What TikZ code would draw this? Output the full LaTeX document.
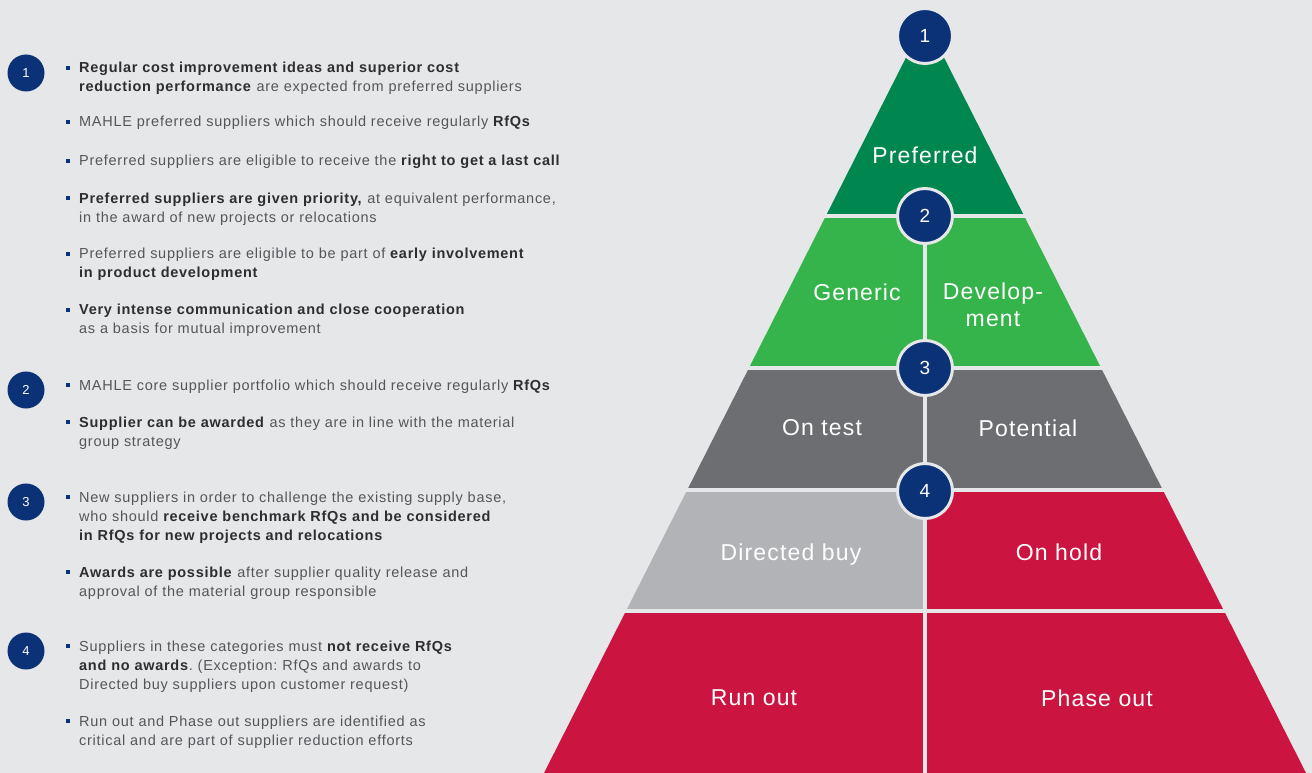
\documentclass[tikz,border=0pt]{standalone}
\usepackage{fontspec}
\setmainfont{Liberation Sans}[LetterSpace=5]
\frenchspacing

\definecolor{bgc}{HTML}{E6E7E9}
\definecolor{stepblue}{HTML}{0B3277}
\definecolor{prefgreen}{HTML}{00874F}
\definecolor{gengreen}{HTML}{34B44A}
\definecolor{testgray}{HTML}{6D6E71}
\definecolor{buygray}{HTML}{B1B3B6}
\definecolor{holdred}{HTML}{CC1440}
\definecolor{txtgray}{HTML}{55565A}
\definecolor{txtdark}{HTML}{2E2E30}

\newcommand{\keyw}[1]{\textcolor{txtdark}{\textbf{#1}}}
\newcommand{\sqbul}{\llap{\textcolor{stepblue}{\rule[2.8pt]{4pt}{4pt}}\hspace{9.5pt}}}

\begin{document}
\begin{tikzpicture}[x = 1pt, y = -1pt,
    layertext/.style = {text = white, font = \fontsize{23}{27}\selectfont, align = center},
    stepdot/.style = {circle, fill = stepblue, draw = bgc, line width = 3pt, minimum size = 55pt, inner sep = 0pt, text = white, font = \fontsize{19}{19}\selectfont},
    sidedot/.style = {circle, fill = stepblue, minimum size = 37pt, inner sep = 0pt, text = white, font = \fontsize{13}{13}\selectfont},
    itemtext/.style = {anchor = base west, text width = 520pt, align = left, inner sep = 0pt, text = txtgray, font = \fontsize{14.5}{19}\selectfont\frenchspacing}]

    \fill[bgc] (0,0) rectangle (1312,773);
    \useasboundingbox (0,0) rectangle (1312,773);

    % pyramid
    \begin{scope}
        \clip (925,20) -- (1306,773) -- (544,773) -- cycle;
        \fill[prefgreen] (540,58) rectangle (1312,214);
        \fill[gengreen] (540,218) rectangle (1312,366);
        \fill[testgray] (540,370) rectangle (1312,488);
        \fill[buygray] (540,492) rectangle (925,609);
        \fill[holdred] (925,492) rectangle (1312,609);
        \fill[holdred] (540,613) rectangle (1312,773);
    \end{scope}
    \fill[bgc] (923,218) rectangle (927,773);

    \node[layertext] (pref) at (925,155) {Preferred};
    \node[layertext] (gen) at (857,292) {Generic};
    \node[layertext] (dev) at (993,305) {Develop-\\ment};
    \node[layertext] (test) at (822,428) {On test};
    \node[layertext] (pot) at (1028,428) {Potential};
    \node[layertext] (dir) at (791,555) {Directed buy};
    \node[layertext] (hold) at (1059,552) {On hold};
    \node[layertext] (run) at (754,698) {Run out};
    \node[layertext] (phase) at (1097,698) {Phase out};

    \node[stepdot] (s1) at (925,36) {1};
    \node[stepdot] (s2) at (925,216) {2};
    \node[stepdot] (s3) at (925,368) {3};
    \node[stepdot] (s4) at (925,491) {4};

    % explanations
    \node[sidedot] (d1) at (26,73) {1};
    \node[sidedot] (d2) at (26,390) {2};
    \node[sidedot] (d3) at (26,502) {3};
    \node[sidedot] (d4) at (26,651) {4};

    \node[itemtext] (i1a) at (79,72.5) {\sqbul\keyw{Regular cost improvement ideas and superior cost}\\\keyw{reduction performance} are expected from preferred suppliers};
    \node[itemtext] (i1b) at (79,127) {\sqbul MAHLE preferred suppliers which should receive regularly \keyw{RfQs}};
    \node[itemtext] (i1c) at (79,165.5) {\sqbul Preferred suppliers are eligible to receive the \keyw{right to get a last call}};
    \node[itemtext] (i1d) at (79,203) {\sqbul\keyw{Preferred suppliers are given priority,} at equivalent performance,\\in the award of new projects or relocations};
    \node[itemtext] (i1e) at (79,258.5) {\sqbul Preferred suppliers are eligible to be part of \keyw{early involvement}\\\keyw{in product development}};
    \node[itemtext] (i1f) at (79,314.5) {\sqbul\keyw{Very intense communication and close cooperation}\\as a basis for mutual improvement};

    \node[itemtext] (i2a) at (79,390) {\sqbul MAHLE core supplier portfolio which should receive regularly \keyw{RfQs}};
    \node[itemtext] (i2b) at (79,427) {\sqbul\keyw{Supplier can be awarded} as they are in line with the material\\group strategy};

    \node[itemtext] (i3a) at (79,502) {\sqbul New suppliers in order to challenge the existing supply base,\\who should \keyw{receive benchmark RfQs and be considered}\\\keyw{in RfQs for new projects and relocations}};
    \node[itemtext] (i3b) at (79,577) {\sqbul\keyw{Awards are possible} after supplier quality release and\\approval of the material group responsible};

    \node[itemtext] (i4a) at (79,651) {\sqbul Suppliers in these categories must \keyw{not receive RfQs}\\\keyw{and no awards}. (Exception: RfQs and awards to\\Directed buy suppliers upon customer request)};
    \node[itemtext] (i4b) at (79,726) {\sqbul Run out and Phase out suppliers are identified as\\critical and are part of supplier reduction efforts};

\end{tikzpicture}
\end{document}
